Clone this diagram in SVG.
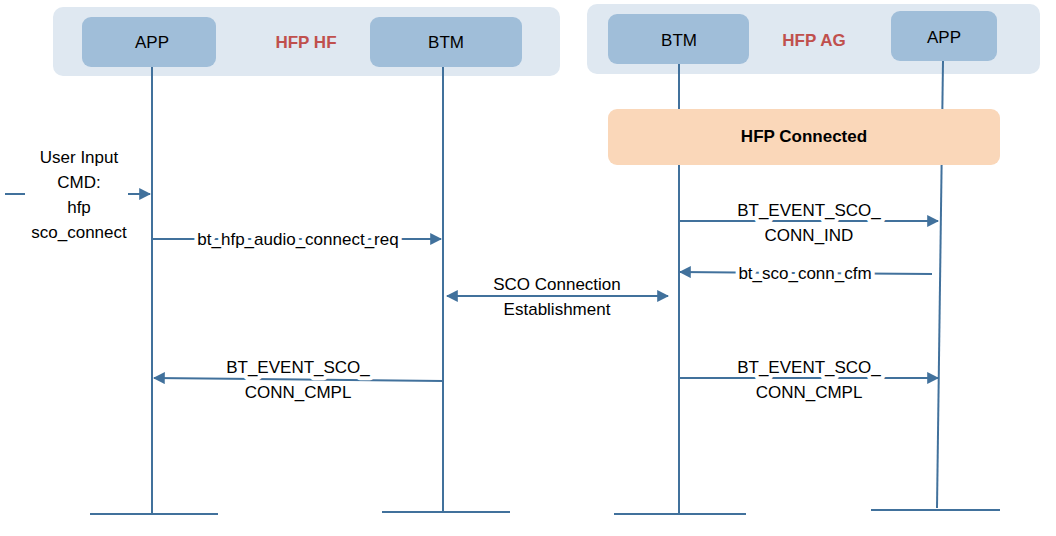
<svg xmlns="http://www.w3.org/2000/svg" width="1056" height="536" viewBox="0 0 1056 536">
<style>
.panel{fill:#dfe8f1}
.node{fill:#a0bed9}
.life{stroke:#41719c;stroke-width:2;fill:none}
.base{stroke:#41719c;stroke-width:2}
.msg{stroke:#41719c;stroke-width:2;fill:none}
text{font-family:"Liberation Sans",Arial,sans-serif;font-size:17px;fill:#000;text-anchor:middle}
.lbl{stroke:#fff;stroke-width:8;paint-order:stroke;stroke-linejoin:round}
.title{fill:#c0504d;font-weight:bold}
</style>
<defs>
<marker id="ah" viewBox="0 0 10 10" refX="9" refY="5" markerWidth="12" markerHeight="12" markerUnits="userSpaceOnUse" orient="auto-start-reverse"><path d="M0,0L10,5L0,10z" fill="#41719c"/></marker>
</defs>
<g id="panels">
<rect class="panel" x="53" y="7" width="507" height="69" rx="10"/>
<rect class="panel" x="587" y="4" width="453" height="70" rx="10"/>
<text class="title" x="306" y="48">HFP HF</text>
<text class="title" x="814" y="46">HFP AG</text>
</g>
<g id="hf-app"><rect class="node" x="82" y="17" width="134" height="50" rx="9"/><text x="152" y="48">APP</text><line class="life" x1="152" y1="67" x2="152" y2="514"/><line class="base" x1="90" y1="514" x2="218" y2="514"/></g>
<g id="hf-btm"><rect class="node" x="370" y="17" width="152" height="50" rx="9"/><text x="446" y="48">BTM</text><line class="life" x1="443" y1="67" x2="443" y2="512"/><line class="base" x1="382" y1="512" x2="510" y2="512"/></g>
<g id="ag-btm"><rect class="node" x="608" y="14" width="141" height="50" rx="9"/><text x="679" y="46">BTM</text><line class="life" x1="679" y1="64" x2="679" y2="514"/><line class="base" x1="614" y1="514" x2="746" y2="514"/></g>
<g id="ag-app"><rect class="node" x="891" y="11" width="106" height="50" rx="9"/><text x="944" y="43">APP</text><line class="life" x1="943" y1="61" x2="937" y2="508"/><line class="base" x1="871" y1="510" x2="1000" y2="510"/></g>
<g id="hfp-connected"><rect x="608" y="109" width="392" height="56" rx="9" fill="#fad7b9"/><text x="804" y="142" style="font-weight:bold">HFP Connected</text></g>
<g id="connectors">
<line class="msg" x1="5" y1="194" x2="25" y2="194"/>
<line class="msg" x1="128" y1="194" x2="150" y2="194" marker-end="url(#ah)"/>
<line class="msg" x1="152" y1="239" x2="441" y2="239" marker-end="url(#ah)"/>
<line class="msg" x1="447" y1="296" x2="668" y2="296" marker-start="url(#ah)" marker-end="url(#ah)"/>
<line class="msg" x1="443" y1="381" x2="154" y2="378" marker-end="url(#ah)"/>
<line class="msg" x1="679" y1="221" x2="938" y2="221" marker-end="url(#ah)"/>
<line class="msg" x1="932" y1="274" x2="680" y2="272" marker-end="url(#ah)"/>
<line class="msg" x1="679" y1="378" x2="938" y2="378" marker-end="url(#ah)"/>
</g>
<g id="labels">
<text x="79" y="163">User Input</text><text x="79" y="188">CMD:</text><text x="79" y="213">hfp</text><text x="79" y="238">sco_connect</text>
<text class="lbl" x="298" y="245">bt_hfp_audio_connect_req</text>
<text class="lbl" x="557" y="290">SCO Connection</text><text class="lbl" x="557" y="315">Establishment</text>
<text class="lbl" x="298" y="373">BT_EVENT_SCO_</text><text class="lbl" x="298" y="398">CONN_CMPL</text>
<text class="lbl" x="809" y="216">BT_EVENT_SCO_</text><text class="lbl" x="809" y="241">CONN_IND</text>
<text class="lbl" x="805" y="279">bt_sco_conn_cfm</text>
<text class="lbl" x="809" y="373">BT_EVENT_SCO_</text><text class="lbl" x="809" y="398">CONN_CMPL</text>
</g>
</svg>
